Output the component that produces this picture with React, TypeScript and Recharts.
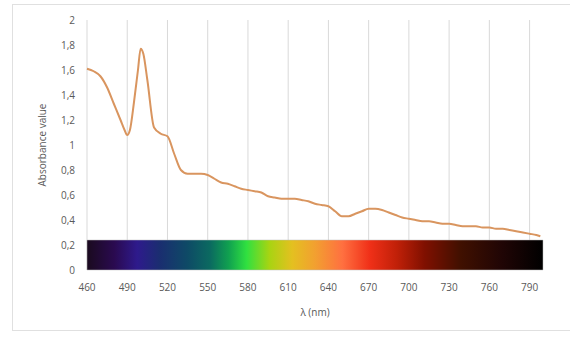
import React from 'react';
import { LineChart, Line, XAxis, YAxis, CartesianGrid, ReferenceArea, Label } from 'recharts';

const wavelengths = [
  460, 465, 470, 475, 480, 485, 488, 490, 492, 495, 498, 500, 502, 505, 510, 515, 520, 525, 530, 535,
  540, 545, 550, 555, 560, 565, 570, 575, 580, 585, 590, 595, 600, 605, 610, 615, 620, 625, 630, 635,
  640, 645, 650, 655, 660, 665, 670, 675, 680, 685, 690, 695, 700, 705, 710, 715, 720, 725, 730, 735,
  740, 745, 750, 755, 760, 765, 770, 775, 780, 785, 790, 795, 798,
];

const absorbance = [
  1.61, 1.59, 1.55, 1.46, 1.33, 1.2, 1.12, 1.08, 1.12, 1.34, 1.6, 1.77, 1.73, 1.52, 1.14, 1.09, 1.07, 0.93, 0.8, 0.77,
  0.77, 0.77, 0.76, 0.73, 0.7, 0.69, 0.67, 0.65, 0.64, 0.63, 0.62, 0.59, 0.58, 0.57, 0.57, 0.57, 0.56, 0.55, 0.53, 0.52,
  0.51, 0.47, 0.43, 0.43, 0.45, 0.47, 0.49, 0.49, 0.48, 0.46, 0.44, 0.42, 0.41, 0.4, 0.39, 0.39, 0.38, 0.37, 0.37, 0.36,
  0.35, 0.35, 0.35, 0.34, 0.34, 0.33, 0.33, 0.32, 0.31, 0.3, 0.29, 0.28, 0.27,
];

const xTicks = [460, 490, 520, 550, 580, 610, 640, 670, 700, 730, 760, 790];
const yTicks = [0, 0.2, 0.4, 0.6, 0.8, 1, 1.2, 1.4, 1.6, 1.8, 2];

// colour band drawn under the curve (visible spectrum)
const spectrumStops: [string, string][] = [
  ['0%', '#1a0a1e'],
  ['6%', '#2a0a50'],
  ['11%', '#2e1a8c'],
  ['16%', '#1a2e70'],
  ['22%', '#0e4a66'],
  ['27%', '#0b6a60'],
  ['31%', '#10a050'],
  ['35%', '#30e040'],
  ['40%', '#a8d412'],
  ['45%', '#e4c020'],
  ['50%', '#f2a030'],
  ['56%', '#ff7040'],
  ['62%', '#f03018'],
  ['68%', '#c02008'],
  ['74%', '#801000'],
  ['82%', '#401000'],
  ['91%', '#200505'],
  ['100%', '#000000'],
];

const data = wavelengths.map((w, i) => ({ w, a: absorbance[i] }));

const fontFamily = '"Open Sans", "Noto Sans", sans-serif';
const tickStyle = { fill: '#595959', fontSize: 10, fontFamily };

export default function App() {
  return (
    <div style={{ position: 'absolute', left: 0, top: 0, width: 570, height: 338, background: '#ffffff', overflow: 'hidden' }}>
      <div
        style={{
          position: 'absolute',
          left: 12,
          top: 4,
          width: 570,
          height: 327,
          background: '#ffffff',
          border: '1px solid #e0e0e0',
          boxSizing: 'border-box',
        }}
      />
      <div style={{ position: 'absolute', left: 0, top: 0 }}>
        <LineChart width={570} height={338} data={data} margin={{ top: 20, right: 27, left: 0, bottom: 0 }}>
          <defs>
            <linearGradient id="spectrum" x1="0" y1="0" x2="1" y2="0">
              {spectrumStops.map(([o, c]) => (
                <stop key={o} offset={o} stopColor={c} />
              ))}
            </linearGradient>
          </defs>
          <CartesianGrid horizontal={false} stroke="#d9d9d9" verticalValues={xTicks} />
          <XAxis
            dataKey="w"
            type="number"
            domain={[460, 800]}
            ticks={xTicks}
            height={68}
            axisLine={false}
            tickLine={false}
            tick={tickStyle}
            tickMargin={8}
          >
            <Label value="λ (nm)" position="insideBottom" offset={22} style={{ fill: '#595959', fontSize: 10, fontFamily }} />
          </XAxis>
          <YAxis
            type="number"
            domain={[0, 2]}
            ticks={yTicks}
            width={87}
            axisLine={false}
            tickLine={false}
            tick={tickStyle}
            tickMargin={6}
            tickFormatter={(v: number) => String(v).replace('.', ',')}
          >
            <Label
              value="Absorbance value"
              angle={-90}
              position="insideLeft"
              offset={42}
              style={{ fill: '#595959', fontSize: 10, fontFamily, textAnchor: 'middle' }}
            />
          </YAxis>
          <ReferenceArea x1={460} x2={800} y1={0} y2={0.24} fill="url(#spectrum)" fillOpacity={1} stroke="#bfbfbf" strokeWidth={0.5} />
          <Line
            type="monotone"
            dataKey="a"
            stroke="#d9955f"
            strokeWidth={2}
            dot={false}
            isAnimationActive={false}
          />
        </LineChart>
      </div>
    </div>
  );
}
